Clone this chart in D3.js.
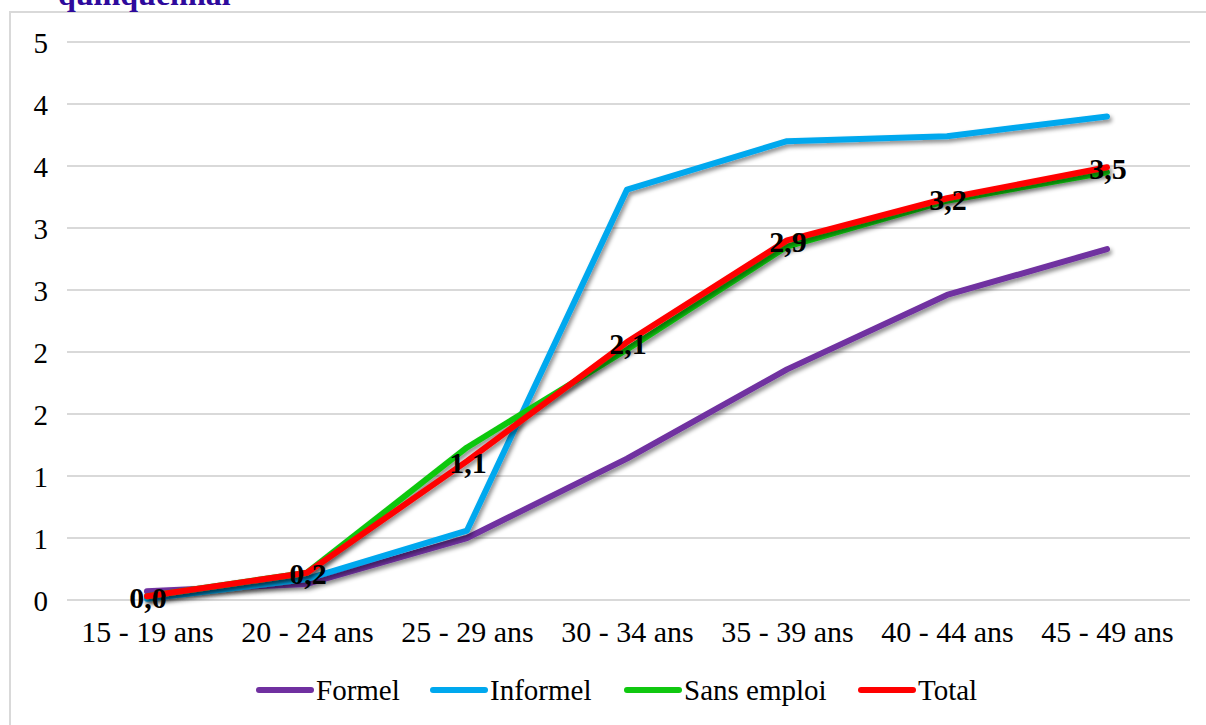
<!DOCTYPE html>
<html>
<head>
<meta charset="utf-8">
<script src="https://cdn.jsdelivr.net/npm/d3@7"></script>
<style>
  html, body { margin: 0; padding: 0; background: #fff; }
  svg { display: block; }
</style>
</head>
<body>
<svg id="chart" width="1206" height="725"></svg>
<script>
const categories = ["15 - 19 ans", "20 - 24 ans", "25 - 29 ans", "30 - 34 ans", "35 - 39 ans", "40 - 44 ans", "45 - 49 ans"];
const formel     = [0.07, 0.13, 0.50, 1.14, 1.86, 2.46, 2.83];
const informel   = [0.01, 0.17, 0.56, 3.31, 3.70, 3.74, 3.90];
const sansEmploi = [0.03, 0.22, 1.23, 2.02, 2.85, 3.22, 3.45];
const total      = [0.03, 0.22, 1.12, 2.08, 2.90, 3.24, 3.49];
const yTickValues = [0, 0.5, 1, 1.5, 2, 2.5, 3, 3.5, 4, 4.5];
const yTickLabels = ["0", "1", "1", "2", "2", "3", "3", "4", "4", "5"];
const seriesNames = ["Formel", "Informel", "Sans emploi", "Total"];
const titleText = "quinquennal";

const colors = ["#7030A0", "#00A8EE", "#10C810", "#FF0000"];
const seriesData = [formel, informel, sansEmploi, total];

const svg = d3.select("#chart");
const serif = "'Liberation Serif', 'Times New Roman', serif";

const defs = svg.append("defs");
const f = defs.append("filter").attr("id", "shadow").attr("x", "-5%").attr("y", "-5%").attr("width", "110%").attr("height", "120%");
f.append("feDropShadow").attr("dx", 2).attr("dy", 3).attr("stdDeviation", 2)
  .attr("flood-color", "#000").attr("flood-opacity", 0.45);

// Outer border
svg.append("rect").attr("x", 10).attr("y", 12).attr("width", 1206).attr("height", 740)
  .attr("fill", "none").attr("stroke", "#d9d9d9").attr("stroke-width", 2);

// Title (clipped at the top)
svg.append("text").attr("x", 58).attr("y", 5)
  .attr("font-family", serif).attr("font-weight", "bold").attr("font-size", 32)
  .attr("fill", "#2E0A9C").text(titleText);

const x = d3.scalePoint().domain(categories).range([67, 1187]).padding(0.5);
const y = d3.scaleLinear().domain([0, 4.5]).range([600, 42]);

// Gridlines
svg.append("g").selectAll("line").data(yTickValues).join("line")
  .attr("x1", 67).attr("x2", 1190)
  .attr("y1", d => y(d)).attr("y2", d => y(d))
  .attr("stroke", "#d9d9d9").attr("stroke-width", 2);

// Y axis labels
const yAxis = d3.axisLeft(y).tickValues(yTickValues)
  .tickFormat((d, i) => yTickLabels[i]).tickSize(0).tickPadding(0);
const gy = svg.append("g").attr("transform", "translate(48,0)").call(yAxis);
gy.select(".domain").remove();
gy.selectAll("text").attr("font-family", serif).attr("font-size", 29).attr("fill", "#000")
  .attr("dy", "0.35em");

// X axis labels
const xAxis = d3.axisBottom(x).tickSize(0).tickPadding(0);
const gx = svg.append("g").attr("transform", "translate(0,619)").call(xAxis);
gx.select(".domain").remove();
gx.selectAll("text").attr("font-family", serif).attr("font-size", 30).attr("fill", "#000")
  .attr("dy", "0.75em");

// Lines
const line = d3.line().x((d, i) => x(categories[i])).y(d => y(d));
svg.append("g").selectAll("path").data(seriesData).join("path")
  .attr("d", d => line(d))
  .attr("fill", "none")
  .attr("stroke", (d, i) => colors[i])
  .attr("stroke-width", 6)
  .attr("stroke-linejoin", "round")
  .attr("stroke-linecap", "round")
  .attr("filter", "url(#shadow)");

// Data labels for Total
const fr = d3.formatLocale({decimal: ",", thousands: " ", grouping: [3], currency: ["", " €"]});
const fmt = fr.format(".1f");
svg.append("g").selectAll("text").data(total).join("text")
  .attr("x", (d, i) => x(categories[i]) + 1)
  .attr("y", d => y(d) + 1)
  .attr("dy", "0.35em")
  .attr("text-anchor", "middle")
  .attr("font-family", serif).attr("font-weight", "bold").attr("font-size", 30)
  .attr("fill", "#000")
  .text(d => fmt(d));

// Legend
const legendX = [316, 490, 684, 918];
const lg = svg.append("g");
seriesNames.forEach((name, i) => {
  lg.append("line")
    .attr("x1", legendX[i] - 57).attr("x2", legendX[i] - 5)
    .attr("y1", 690).attr("y2", 690)
    .attr("stroke", colors[i]).attr("stroke-width", 6).attr("stroke-linecap", "round");
  lg.append("text").attr("x", legendX[i]).attr("y", 700)
    .attr("font-family", serif).attr("font-size", 29).attr("fill", "#000")
    .text(name);
});
</script>
</body>
</html>
